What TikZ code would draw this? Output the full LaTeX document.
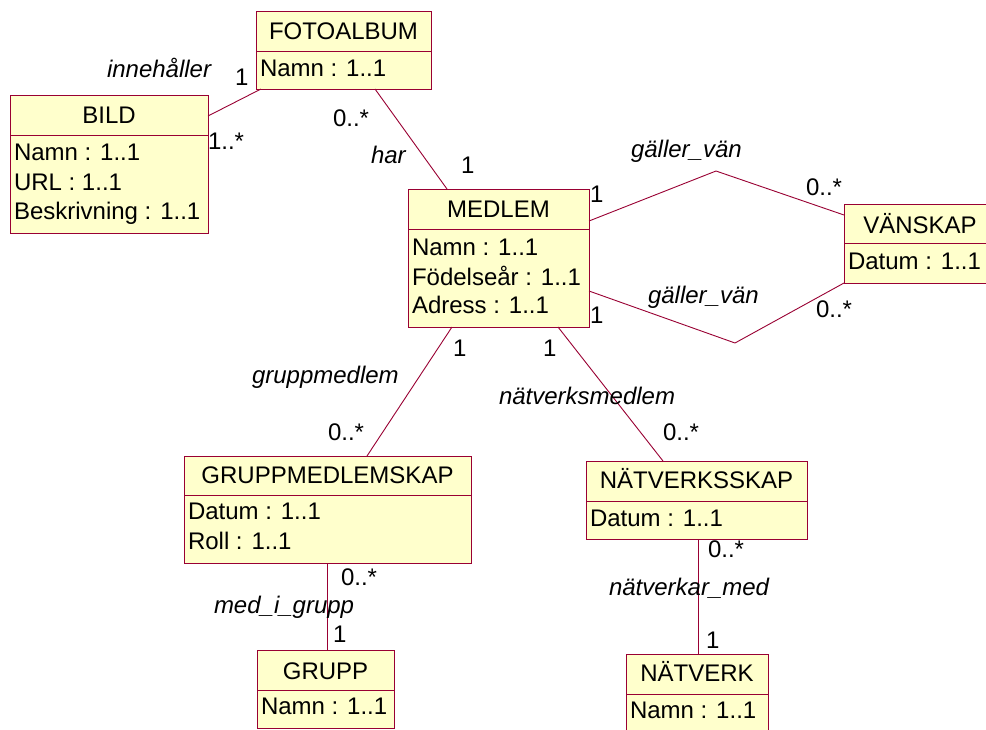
\documentclass[tikz,border=0pt]{standalone}
\usepackage{fontspec}
\setmainfont{Liberation Sans}
\usetikzlibrary{calc}
\definecolor{umlline}{RGB}{153,0,51}
\definecolor{umlfill}{RGB}{255,255,204}
\begin{document}
\begin{tikzpicture}[x=1pt,y=-1pt,
  classbox/.style={draw=umlline, fill=umlfill, line width=0.9pt, inner sep=0pt, outer sep=0pt, anchor=north west},
  sepline/.style={draw=umlline, line width=0.9pt},
  assoc/.style={draw=umlline, line width=0.9pt},
  txt/.style={inner sep=0pt, outer sep=0pt, font=\fontsize{24}{28}\selectfont},
  ctitle/.style={txt, anchor=base},
  attr/.style={txt, anchor=base west},
  role/.style={txt, font=\fontsize{24}{28}\selectfont\itshape, anchor=base west},
  mult/.style={txt, anchor=base west}]
\useasboundingbox (0,0) rectangle (986,729);
\clip (0,0) rectangle (986,729);
\fill[white] (0,0) rectangle (986,729);

% ---------- classes ----------
% FOTOALBUM
\node[classbox, minimum width=175pt, minimum height=78pt] (fotoalbum) at (256,11) {};
\draw[sepline] ([yshift=-40pt]fotoalbum.north west) -- ([yshift=-40pt]fotoalbum.north east);
\node[ctitle] (fotoalbum-t) at ([yshift=-28pt]fotoalbum.north) {FOTOALBUM};
\node[attr] (fotoalbum-a1) at ([xshift=4pt,yshift=-65pt]fotoalbum.north west) {Namn : 1..1};

% BILD
\node[classbox, minimum width=198pt, minimum height=138pt] (bild) at (10,95) {};
\draw[sepline] ([yshift=-40pt]bild.north west) -- ([yshift=-40pt]bild.north east);
\node[ctitle] (bild-t) at ([yshift=-28pt]bild.north) {BILD};
\node[attr] (bild-a1) at ([xshift=4pt,yshift=-65pt]bild.north west) {Namn : 1..1};
\node[attr] (bild-a2) at ([xshift=4pt,yshift=-95pt]bild.north west) {URL : 1..1};
\node[attr] (bild-a3) at ([xshift=4pt,yshift=-124pt]bild.north west) {Beskrivning : 1..1};

% MEDLEM
\node[classbox, minimum width=181pt, minimum height=138pt] (medlem) at (408,189) {};
\draw[sepline] ([yshift=-40pt]medlem.north west) -- ([yshift=-40pt]medlem.north east);
\node[ctitle] (medlem-t) at ([yshift=-28pt]medlem.north) {MEDLEM};
\node[attr] (medlem-a1) at ([xshift=4pt,yshift=-66pt]medlem.north west) {Namn : 1..1};
\node[attr] (medlem-a2) at ([xshift=4pt,yshift=-96pt]medlem.north west) {Födelseår : 1..1};
\node[attr] (medlem-a3) at ([xshift=4pt,yshift=-124pt]medlem.north west) {Adress : 1..1};

% VÄNSKAP
\node[classbox, minimum width=152pt, minimum height=79pt] (vanskap) at (844,204) {};
\draw[sepline] ([yshift=-39pt]vanskap.north west) -- ([yshift=-39pt]vanskap.north east);
\node[ctitle] (vanskap-t) at ([yshift=-29pt]vanskap.north) {VÄNSKAP};
\node[attr] (vanskap-a1) at ([xshift=4pt,yshift=-65pt]vanskap.north west) {Datum : 1..1};

% GRUPPMEDLEMSKAP
\node[classbox, minimum width=287pt, minimum height=107pt] (gms) at (184,456) {};
\draw[sepline] ([yshift=-39pt]gms.north west) -- ([yshift=-39pt]gms.north east);
\node[ctitle] (gms-t) at ([yshift=-27pt]gms.north) {GRUPPMEDLEMSKAP};
\node[attr] (gms-a1) at ([xshift=4pt,yshift=-63pt]gms.north west) {Datum : 1..1};
\node[attr] (gms-a2) at ([xshift=4pt,yshift=-93pt]gms.north west) {Roll : 1..1};

% NÄTVERKSSKAP
\node[classbox, minimum width=221pt, minimum height=78pt] (nvs) at (586,461) {};
\draw[sepline] ([yshift=-40pt]nvs.north west) -- ([yshift=-40pt]nvs.north east);
\node[ctitle] (nvs-t) at ([yshift=-27pt]nvs.north) {NÄTVERKSSKAP};
\node[attr] (nvs-a1) at ([xshift=4pt,yshift=-65pt]nvs.north west) {Datum : 1..1};

% GRUPP
\node[classbox, minimum width=137pt, minimum height=78pt] (grupp) at (257,650) {};
\draw[sepline] ([yshift=-40pt]grupp.north west) -- ([yshift=-40pt]grupp.north east);
\node[ctitle] (grupp-t) at ([yshift=-29pt]grupp.north) {GRUPP};
\node[attr] (grupp-a1) at ([xshift=4pt,yshift=-64pt]grupp.north west) {Namn : 1..1};

% NÄTVERK
\node[classbox, minimum width=142pt, minimum height=90pt] (natverk) at (626,654) {};
\draw[sepline] ([yshift=-40pt]natverk.north west) -- ([yshift=-40pt]natverk.north east);
\node[ctitle] (natverk-t) at ([yshift=-27pt]natverk.north) {NÄTVERK};
\node[attr] (natverk-a1) at ([xshift=4pt,yshift=-64pt]natverk.north west) {Namn : 1..1};

% ---------- associations ----------
\coordinate (gv1) at (716,171);
\coordinate (gv2) at (735,343);
\draw[assoc] ([yshift=-21pt]bild.north east) -- ([xshift=5pt]fotoalbum.south west);
\draw[assoc] ([xshift=119pt]fotoalbum.south west) -- ([xshift=39pt]medlem.north west);
\draw[assoc] ([yshift=-32pt]medlem.north east) -- (gv1) -- ([yshift=-11pt]vanskap.north west);
\draw[assoc] ([yshift=-102pt]medlem.north east) -- (gv2) -- (vanskap.south west);
\draw[assoc] ([xshift=44pt]medlem.south west) -- ([xshift=183pt]gms.north west);
\draw[assoc] ([xshift=150pt]medlem.south west) -- ([xshift=77pt]nvs.north west);
\draw[assoc] ([xshift=143pt]gms.south west) -- ([xshift=70pt]grupp.north west);
\draw[assoc] ([xshift=112pt]nvs.south west) -- ([xshift=72pt]natverk.north west);

% ---------- labels ----------
\node[role] (r-inneh) at (107,77) {innehåller};
\node[mult] (m-fa1) at (235,85) {1};
\node[mult] (m-bild) at (208,149) {1..*};
\node[mult] (m-fa2) at (333,126) {0..*};
\node[role] (r-har) at (371,163) {har};
\node[mult] (m-me1) at (461,173) {1};
\node[role] (r-gv1) at (631,157) {gäller\_vän};
\node[mult] (m-me2) at (590,202) {1};
\node[mult] (m-vs1) at (806,195) {0..*};
\node[role] (r-gv2) at (648,303) {gäller\_vän};
\node[mult] (m-me3) at (590,323) {1};
\node[mult] (m-vs2) at (816,317) {0..*};
\node[mult] (m-me4) at (453,356) {1};
\node[mult] (m-me5) at (543,356) {1};
\node[role] (r-gm) at (252,383) {gruppmedlem};
\node[role] (r-nm) at (499,404) {nätverksmedlem};
\node[mult] (m-gms1) at (328,440) {0..*};
\node[mult] (m-nvs1) at (663,440) {0..*};
\node[mult] (m-gms2) at (341,585) {0..*};
\node[role] (r-mig) at (214,613) {med\_i\_grupp};
\node[mult] (m-gr) at (333,642) {1};
\node[mult] (m-nvs2) at (708,557) {0..*};
\node[role] (r-nam) at (609,595) {nätverkar\_med};
\node[mult] (m-nv) at (706,648) {1};
\end{tikzpicture}
\end{document}
